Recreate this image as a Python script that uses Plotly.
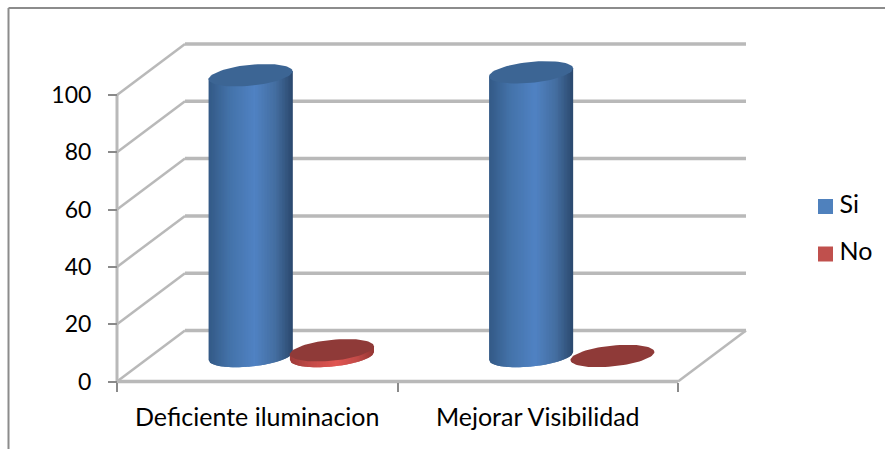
import numpy as np
import plotly.graph_objects as go

# Chart data
categories = ["Deficiente iluminacion", "Mejorar Visibilidad"]
series_names = ["Si", "No"]
si_values = [98, 99]
no_values = [2, 0]
y_ticks = [0, 20, 40, 60, 80, 100]

# Palette
SI_FLAT, NO_FLAT = "#4f81bd", "#c0504d"
SI_TOP, NO_TOP = "#3c6594", "#8f3a38"
GRID = "#b9b9b9"
AXIS = "#8a8a8a"
TEXT = "#000000"
# Lighting stops across the cylinder width: (position, rgb)
SI_RAMP = [(0, (52, 90, 135)), (.25, (68, 115, 170)), (.55, (80, 130, 195)), (.8, (68, 110, 160)), (1, (44, 74, 112))]
NO_RAMP = [(0, (160, 60, 58)), (.25, (195, 75, 72)), (.55, (224, 86, 82)), (.8, (195, 75, 72)), (1, (150, 55, 52))]

# Figure size and axis scale (pixels per unit), used to express the
# oblique depth of the 3-D box in data units.
W, H = 885, 449
X0_PX, UNIT_X = 117.0, 280.5
Y0_PX, UNIT_Y = 381.5, 2.865
DEPTH_X = 68 / UNIT_X
DEPTH_Y = 51 / UNIT_Y
BAR_HALF = 42 / UNIT_X
ELL_B = 10.5 / UNIT_Y
ELL_TILT = 4.0 / UNIT_Y
BAR_OFFSET = 0.145

fig = go.Figure()


def line(xs, ys, color=GRID, width=3.5):
    fig.add_trace(go.Scatter(x=xs, y=ys, mode="lines", hoverinfo="skip", showlegend=False,
                             line=dict(color=color, width=width)))


def poly(xs, ys, color):
    fig.add_trace(go.Scatter(x=xs, y=ys, mode="lines", fill="toself", fillcolor=color,
                             hoverinfo="skip", showlegend=False,
                             line=dict(color=color, width=0)))


def shade(u, ramp):
    pos = [p for p, _ in ramp]
    return "rgb(%d,%d,%d)" % tuple(round(np.interp(u, pos, [c[k] for _, c in ramp])) for k in range(3))


def cylinder(cx, value, top, ramp):
    base_y = DEPTH_Y / 2
    top_y = base_y + value
    if value > 0:
        # Painted left to right; each strip overlaps the next to hide seams
        n = 56
        u = np.linspace(-1, 1, n + 1)
        for i in range(n):
            c = u[i:min(i + 3, n + 1)]
            xs = cx + BAR_HALF * c
            arc = np.sqrt(np.clip(1 - c ** 2, 0, 1))
            low = base_y - ELL_B * arc + ELL_TILT * c
            high = top_y + ELL_TILT * c
            poly(list(xs) + list(xs[::-1]), list(low) + list(high[::-1]),
                 shade(i / (n - 1), ramp))
    a = np.linspace(0, 2 * np.pi, 73)
    poly(cx + BAR_HALF * np.cos(a),
         top_y + ELL_B * np.sin(a) + ELL_TILT * np.cos(a), top)


# Box: side wall, floor and back wall grid lines
for v in y_ticks:
    line([0, DEPTH_X], [v, v + DEPTH_Y], width=2.5)
    line([DEPTH_X, 2 + DEPTH_X], [v + DEPTH_Y, v + DEPTH_Y])
line([2, 2 + DEPTH_X], [0, DEPTH_Y], width=2.5)
line([0, 2], [0, 0])
line([0, 0], [0, 100], width=3)

# Cylinders, left to right
for i, _ in enumerate(categories):
    centre = i + 0.5 + DEPTH_X / 2
    cylinder(centre - BAR_OFFSET, si_values[i], SI_TOP, SI_RAMP)
    cylinder(centre + BAR_OFFSET, no_values[i], NO_TOP, NO_RAMP)

# Series key on the right of the plot: swatch, then its label
swatch_x = (825.5 - X0_PX) / UNIT_X
label_x = (839.5 - X0_PX) / UNIT_X
for y_px, name, color in zip([206.5, 254], series_names, [SI_FLAT, NO_FLAT]):
    key_y = (Y0_PX - y_px) / UNIT_Y
    fig.add_trace(go.Scatter(x=[swatch_x], y=[key_y], mode="markers", name=name,
                             hoverinfo="skip", showlegend=False,
                             marker=dict(symbol="square", size=15, color=color)))
    fig.add_trace(go.Scatter(x=[label_x], y=[key_y], mode="text", text=[name],
                             textposition="middle right", textfont=dict(size=25, color=TEXT),
                             hoverinfo="skip", showlegend=False))

FONT = "Lato, Carlito, Calibri, sans-serif"
fig.update_layout(
    width=W, height=H, margin=dict(l=0, r=0, t=0, b=0),
    autosize=False, showlegend=False,
    paper_bgcolor="white", plot_bgcolor="white",
    font=dict(family=FONT, size=25, color=TEXT),
    xaxis=dict(
        domain=[0, 1], range=[(0 - X0_PX) / UNIT_X, (W - X0_PX) / UNIT_X],
        anchor="free", position=1 - Y0_PX / H, showgrid=False, zeroline=False, showline=False,
        tickmode="array", tickvals=[i + 0.5 for i in range(len(categories))], ticktext=categories,
        ticks="outside", ticklen=13, tickcolor="rgba(0,0,0,0)",
        minor=dict(tickmode="array", tickvals=[0, 1, 2], ticks="outside", ticklen=9,
                   tickcolor=AXIS, tickwidth=2, showgrid=False),
    ),
    yaxis=dict(
        domain=[0, 1], range=[-(H - Y0_PX) / UNIT_Y, Y0_PX / UNIT_Y],
        anchor="free", position=X0_PX / W, showgrid=False, zeroline=False, showline=False,
        tickmode="array", tickvals=y_ticks, ticks="outside", ticklen=9,
        tickcolor=AXIS, tickwidth=2, ticklabelstandoff=12, tickfont=dict(size=23, color=TEXT),
    ),
    # Outer chart frame (top and left edges)
    shapes=[
        dict(type="line", xref="paper", yref="paper", x0=8.5 / W, x1=1, y0=1 - 8 / H, y1=1 - 8 / H,
             line=dict(color="#8c8c8c", width=2)),
        dict(type="line", xref="paper", yref="paper", x0=8.5 / W, x1=8.5 / W, y0=0, y1=1 - 8 / H,
             line=dict(color="#8c8c8c", width=2)),
    ],
)

fig.write_html("out.html")
